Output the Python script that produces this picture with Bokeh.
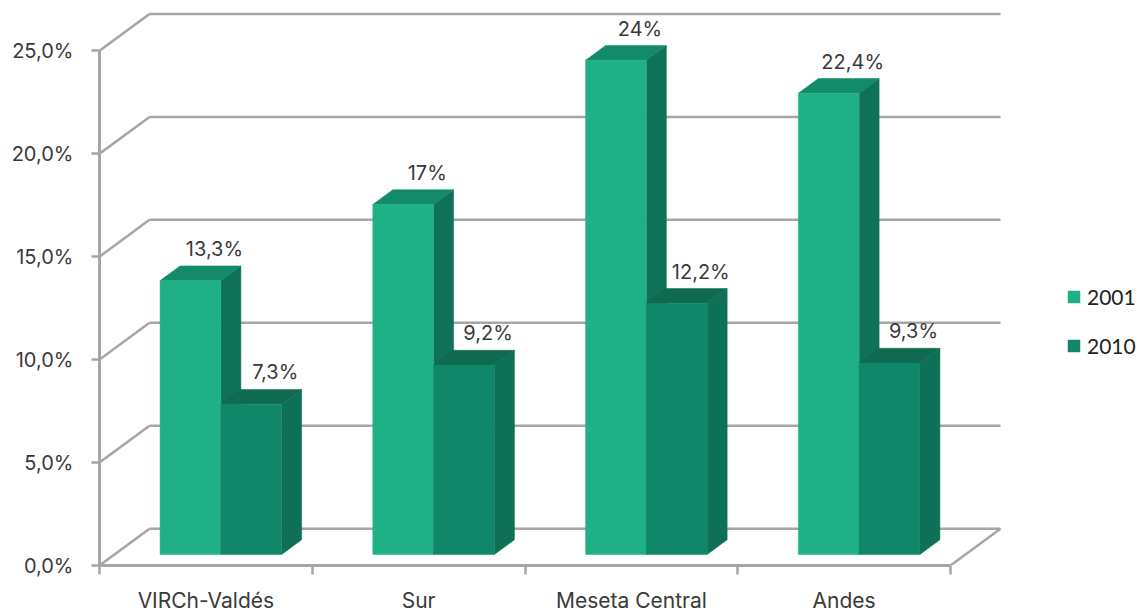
from bokeh.plotting import figure
from bokeh.models import Range1d, LinearAxis, FixedTicker, Legend, LegendItem
from bokeh.core.properties import value
from bokeh.embed import file_html
from bokeh.resources import INLINE

# --- data -------------------------------------------------------------
regions = ["VIRCh-Valdés", "Sur", "Meseta Central", "Andes"]
years = ["2001", "2010"]
share_2001 = [13.3, 17.0, 24.0, 22.4]
share_2010 = [7.3, 9.2, 12.2, 9.3]
y_ticks = [0, 5, 10, 15, 20, 25]
y_tick_labels = ["0,0%", "5,0%", "10,0%", "15,0%", "20,0%", "25,0%"]

# --- styling / pseudo-3D geometry ----------------------------------------
FRONT = ["#1fb185", "#11876a"]
TOP = ["#138a69", "#0f6a4f"]
SIDE = ["#0f7157", "#0e7056"]
GRID = "#a6a6a8"
TEXT = "#3a3a3a"
FONT = "Inter"

PX_X = 212.75          # pixels per category
PX_Y = 20.7            # pixels per percentage point
DX = 50 / PX_X         # depth offset of the back wall, in x units
DY = 37 / PX_Y         # depth offset of the back wall, in y units
Z0, Z1 = 0.3, 0.7      # bar front / back depth (fraction of wall depth)
BAR_W = 1 / 3.5        # bar width (gap width 150 %)

LEFT, FRAME_W, FRAME_H = 99, 1143 - 99, 568
p = figure(width=1143, height=615,
           x_range=Range1d(0, FRAME_W / PX_X), y_range=Range1d(0, FRAME_H / PX_Y),
           x_axis_type=None, y_axis_type=None,
           min_border_left=LEFT, min_border_right=0, min_border_top=0,
           min_border_bottom=615 - FRAME_H,
           output_backend="svg", toolbar_location=None)
p.outline_line_color = None
p.background_fill_color = "white"
p.border_fill_color = "white"

n = len(regions)

# back wall, side wall and floor grid lines
p.segment(x0=[DX] * len(y_ticks), y0=[t + DY for t in y_ticks],
          x1=[n + DX] * len(y_ticks), y1=[t + DY for t in y_ticks],
          line_color=GRID, line_width=2.5)
p.segment(x0=[0] * len(y_ticks), y0=y_ticks,
          x1=[DX] * len(y_ticks), y1=[t + DY for t in y_ticks],
          line_color=GRID, line_width=2.5)
p.segment(x0=[n], y0=[0], x1=[n + DX], y1=[DY], line_color=GRID, line_width=2.5)


def bar_faces(values, offset):
    front_x, front_y, top_x, top_y, side_x, side_y = [], [], [], [], [], []
    for i, v in enumerate(values):
        xl = i + 0.5 + offset * BAR_W - BAR_W
        xr = xl + BAR_W
        ax0, ay0 = Z0 * DX, Z0 * DY
        ax1, ay1 = Z1 * DX, Z1 * DY
        front_x.append([xl + ax0, xr + ax0, xr + ax0, xl + ax0])
        front_y.append([ay0, ay0, v + ay0, v + ay0])
        top_x.append([xl + ax0, xr + ax0, xr + ax1, xl + ax1])
        top_y.append([v + ay0, v + ay0, v + ay1, v + ay1])
        side_x.append([xr + ax0, xr + ax1, xr + ax1, xr + ax0])
        side_y.append([ay0, ay1, v + ay1, v + ay0])
    return front_x, front_y, top_x, top_y, side_x, side_y


fronts = []
for k, vals in enumerate([share_2001, share_2010]):
    fx, fy, tx, ty, sx, sy = bar_faces(vals, k)
    p.patches(sx, sy, fill_color=SIDE[k], line_color=SIDE[k], line_width=0.5)
    p.patches(tx, ty, fill_color=TOP[k], line_color=TOP[k], line_width=0.5)
    r = p.patches(fx, fy, fill_color=FRONT[k], line_color=FRONT[k], line_width=0.5)
    fronts.append(r)

# value labels above each bar
lab_x, lab_y, lab_t = [], [], []
for k, vals in enumerate([share_2001, share_2010]):
    for i, v in enumerate(vals):
        lab_x.append(i + 0.5 + (k - 0.5) * BAR_W + 0.78 * DX)
        lab_y.append(v + Z1 * DY)
        lab_t.append(f"{v:g}".replace(".", ",") + "%")
p.text(x=lab_x, y=lab_y, text=lab_t, text_align="center", text_baseline="bottom",
       y_offset=-5, text_font=value(FONT), text_font_size="20px", text_color=TEXT)

# axes
yaxis = LinearAxis(bounds=(0, max(y_ticks)), ticker=FixedTicker(ticks=y_ticks, minor_ticks=[]),
                   major_label_overrides={t: s for t, s in zip(y_ticks, y_tick_labels)})
yaxis.axis_line_color = GRID
yaxis.axis_line_width = 3
yaxis.major_tick_line_color = GRID
yaxis.major_tick_line_width = 2.5
yaxis.major_tick_out = 8
yaxis.major_tick_in = 0
yaxis.minor_tick_line_color = None
yaxis.major_label_standoff = 18
yaxis.major_label_text_font = FONT
yaxis.major_label_text_font_size = "20px"
yaxis.major_label_text_color = TEXT
p.add_layout(yaxis, "left")

centers = [i + 0.5 for i in range(n)]
xaxis = LinearAxis(bounds=(0, n),
                   ticker=FixedTicker(ticks=centers, minor_ticks=list(range(n + 1))),
                   major_label_overrides={c: r for c, r in zip(centers, regions)})
xaxis.axis_line_color = GRID
xaxis.axis_line_width = 3
xaxis.major_tick_line_color = None
xaxis.minor_tick_line_color = GRID
xaxis.minor_tick_line_width = 2.5
xaxis.minor_tick_out = 9
xaxis.minor_tick_in = 0
xaxis.major_label_standoff = 13
xaxis.major_label_text_font = FONT
xaxis.major_label_text_font_size = "21px"
xaxis.major_label_text_line_height = 1.0
xaxis.major_label_text_color = TEXT
p.add_layout(xaxis, "below")

legend = Legend(items=[LegendItem(label=y, renderers=[r]) for y, r in zip(years, fronts)],
                location=(967, 207), orientation="vertical",
                padding=0, margin=0, spacing=24,
                glyph_width=15, glyph_height=15, label_height=15, label_standoff=6,
                label_text_font="Lato", label_text_font_size="21px",
                label_text_color="#222222",
                border_line_color=None, background_fill_alpha=0)
p.add_layout(legend)

open("out.html", "w").write(file_html(p, INLINE))
